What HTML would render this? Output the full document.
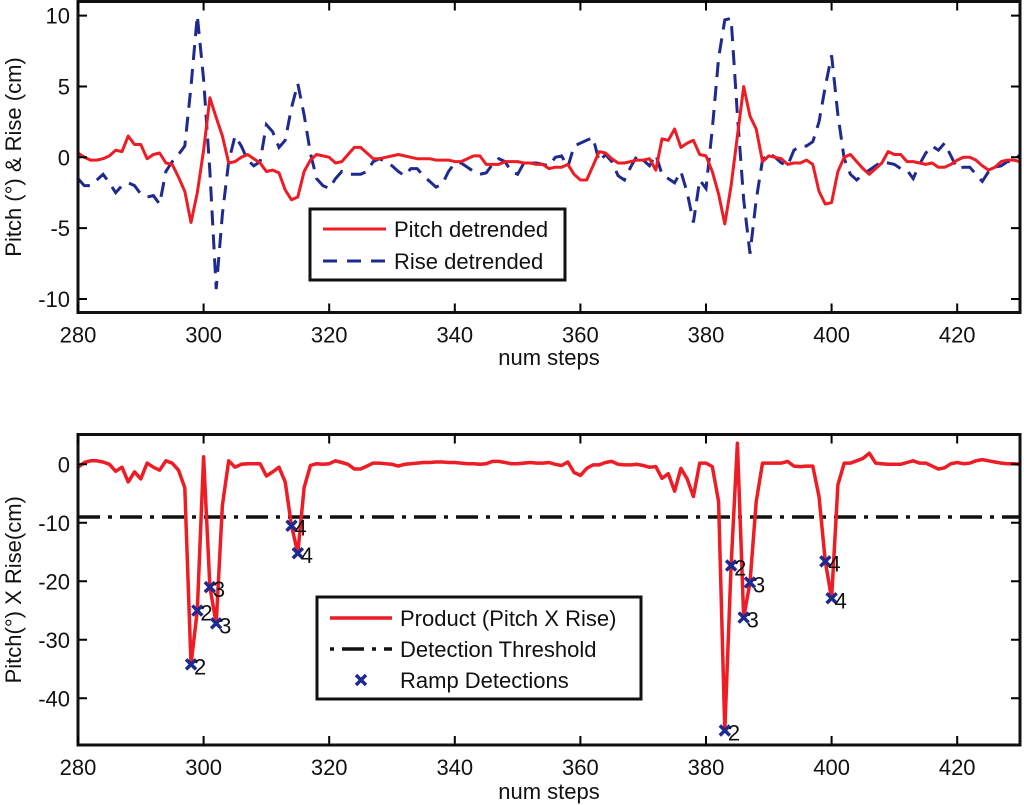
<!DOCTYPE html>
<html><head><meta charset="utf-8"><style>
html,body{margin:0;padding:0;background:#fff;}
svg{display:block;font-family:"Liberation Sans",sans-serif;}
</style></head><body>
<svg id="chart" width="1024" height="805" viewBox="0 0 1024 805"></svg>
<script>
const stepStart = 280;
const pitchValues = [0.3,0,-0.2,-0.2,-0.1,0.1,0.5,0.4,1.5,0.9,
0.9,-0.1,0.2,0.3,-0.4,-0.5,-1.4,-2.4,-4.6,-2.5,
0.5,4.2,2.8,1.5,-0.4,-0.3,0,0.2,-0.1,-0.4,
-1.0,-0.9,-1.1,-2.3,-3.0,-2.8,-1.0,-0.2,0.2,0.1,
0,-0.4,-0.3,0.2,0.7,0.7,0.3,-0.1,-0.1,0,
0.1,0.2,0.1,0,-0.1,-0.1,-0.1,-0.2,-0.2,-0.2,
-0.3,-0.3,-0.1,0.1,0.1,-0.5,-0.5,-0.5,-0.3,-0.3,
-0.3,-0.4,-0.4,-0.5,-0.5,-0.8,-0.7,-0.7,-0.5,-1.2,
-1.6,-1.6,-0.6,0.4,0.3,-0.1,-0.4,-0.4,-0.3,-0.2,
-0.2,-0.1,-0.9,1.3,1.2,2.0,0.7,1.0,1.2,0.2,
0.1,-1.0,-2.6,-4.7,-2.0,1.5,5.0,2.9,2.0,-0.3,
0.1,0,-0.1,-0.5,-0.4,-0.4,-0.2,-0.5,-2.4,-3.3,
-3.2,-1.0,0,0.2,-0.3,-0.8,-1.2,-0.8,-0.4,0.4,
0.2,0.2,-0.3,-0.3,-0.4,-0.5,-0.4,-0.7,-0.7,-0.5,
-0.2,0,0,-0.2,-0.6,-0.9,-0.7,-0.3,-0.2,-0.2,
-0.3];
const riseValues = [-1.5,-2.0,-2.0,-1.6,-1.2,-1.8,-2.5,-2.0,-1.8,-2.0,
-2.6,-2.8,-2.7,-3.3,-1.0,-0.3,0.2,0.8,5.0,10.0,
5.5,-1.0,-9.3,-4.0,-0.3,1.5,0.8,-0.2,-0.6,-0.3,
2.3,1.8,0.7,1.2,3.5,5.2,3.0,0.3,-1.5,-2.0,
-2.2,-1.5,-1.0,-1.2,-1.2,-1.2,-1.0,-0.3,-0.1,-0.3,
-0.6,-1.0,-1.3,-0.8,-0.8,-1.3,-1.7,-2.1,-1.9,-1.0,
-0.4,-0.4,-0.7,-1.0,-1.2,-1.1,-0.5,-0.1,-0.3,-1.0,
-1.2,-0.4,-0.4,-0.4,-0.5,-0.6,0,0.1,-0.7,0.8,
1.0,1.2,1.4,-0.3,0.2,-0.3,-1.3,-1.6,-0.7,0.1,
-0.2,-0.6,0.2,-1.2,-1.5,-1.8,-1.0,-2.5,-4.6,-1.6,
-2.2,2.0,7.0,9.7,9.8,3.0,-3.0,-6.8,-3.0,-0.2,
0.3,0,-0.4,-0.6,0.5,0.8,0.8,1.1,2.5,5.0,
7.2,3.0,-0.1,-1.2,-1.6,-1.2,-0.9,-0.6,-0.3,-0.4,
-0.5,-0.8,-0.9,-1.5,-0.5,0.3,0.8,0.5,1.0,0.1,
-0.8,-0.7,-0.7,-1.2,-1.7,-1.0,-0.7,-0.6,-0.3,-0.3,
0.2];
const productValues = [-0.5,0.3,0.6,0.6,0.4,0,-1.2,-0.5,-3.0,-1.3,
-2.5,0.2,-0.5,-1.0,0.6,0.2,-1.0,-4.0,-34.2,-25,
1.3,-21,-27.2,-7,0.6,-0.5,0,0.1,0.1,0.1,
-2.0,-1.3,-0.5,-3,-10.5,-15.2,-4,-0.2,0.1,0,
0.1,0.6,0.3,0,-0.8,-0.8,-0.3,0.2,0.2,0.1,
0,-0.3,0,0.1,0.2,0.3,0.3,0.4,0.4,0.3,
0.3,0.2,0.1,0.1,0,0.1,0.5,0.5,0.3,0.1,
0.1,0.2,0.3,0.2,0.2,0.3,0,-0.2,0.4,-1.4,
-1.9,-0.7,-0.1,-0.1,0.3,0.5,0,-0.1,-0.1,0,
-0.2,-0.5,-0.4,-2.4,-1.6,-4.6,-0.7,-2.5,-5.5,0.2,
0.2,-0.4,-6.4,-45.5,-17.3,3.6,-26.2,-20.2,-6.4,0.2,
0.2,0.2,0.2,0.5,-0.3,-0.4,-0.3,-0.3,-5.5,-16.6,
-22.9,-3.5,0.2,0.2,0.6,1.0,1.9,0.2,0.1,0,
0,0,0.3,0.6,0.2,0.2,-0.3,-0.8,-0.6,0.1,
0.3,0.1,0.2,0.6,0.8,0.6,0.4,0.2,0.1,0.1,
0];
const thresholdValue = -9;
const detectionSteps = [298,299,301,302,314,315,383,384,386,387,399,400];
const detectionValues = [-34.2,-25,-21,-27.2,-10.5,-15.2,-45.5,-17.3,-26.2,-20.2,-16.6,-22.9];
const detectionLabels = ['2','2','3','3','4','4','2','2','3','3','4','4'];
const xTicks = [280,300,320,340,360,380,400,420];
const topYTicks = [10,5,0,-5,-10];
const bottomYTicks = [0,-10,-20,-30,-40];

const NS='http://www.w3.org/2000/svg';
const svg=document.getElementById('chart');
function mk(tag,attrs,parent){const e=document.createElementNS(NS,tag);for(const k in attrs)e.setAttribute(k,attrs[k]);(parent||svg).appendChild(e);return e;}

const X0=78,X1=1020;
const xScale=s=>X0+(s-280)*(X1-X0)/150;
function yScaleTop(v){return 157.3-v*14.17;}
function yScaleBot(v){return 464.3-v*5.85;}
const steps=pitchValues.map((_,i)=>stepStart+i);

function axes(g,top,bot,yTicks,ys,title,xlabY){
  for(const t of xTicks){
    const x=xScale(t);
    const tk=mk('path',{d:`M${x},${bot}V${bot-9}M${x},${top}V${top+9}`,stroke:'#000','stroke-width':2},g);
    
    
    const tx=mk('text',{x:x,y:bot+30,'font-size':22,'text-anchor':'middle',fill:'#111'},g);
    tx.textContent=t;
    
    
  }
  for(const t of yTicks){
    const y=ys(t);
    const tk=mk('path',{d:`M${X0},${y}H${X0+9}M${X1},${y}H${X1-9}`,stroke:'#000','stroke-width':2},g);
    
    
    const tx=mk('text',{x:X0-8,y:y+8,'font-size':22,'text-anchor':'end',fill:'#111'},g);
    tx.textContent=t;
    
    
  }
  const xl=mk('text',{x:549,y:xlabY,'font-size':22,'text-anchor':'middle',fill:'#111'},g);
  xl.textContent='num steps';
  
  
  const yl=mk('text',{x:0,y:0,'font-size':22,'text-anchor':'middle',fill:'#111',transform:`translate(21,${(top+bot)/2}) rotate(-90)`},g);
  yl.textContent=title;
  
  
}
function line(g,vals,ys,attrs,name){
  const d=vals.map((v,i)=>(i?'L':'M')+xScale(steps[i]).toFixed(1)+','+ys(v).toFixed(1)).join('');
  const p=mk('path',Object.assign({d:d,fill:'none'},attrs),g);
  
  
}

// top plot
const g1=mk('g',{});


mk('rect',{x:X0,y:1.5,width:X1-X0,height:311,fill:'#fff'},g1);
line(g1,riseValues,yScaleTop,{stroke:'#1f2a8f','stroke-width':3,'stroke-dasharray':'15,9'},'rise-detrended-line');
line(g1,pitchValues,yScaleTop,{stroke:'#ee1c24','stroke-width':3,'stroke-linejoin':'round'},'pitch-detrended-line');
const f1=mk('rect',{x:X0,y:1.5,width:X1-X0,height:311,fill:'none',stroke:'#111','stroke-width':3},g1);


axes(g1,1.5,312.5,topYTicks,yScaleTop,'Pitch (\u00b0) & Rise (cm)',365);
const l1=mk('g',{},g1);


mk('rect',{x:310,y:209,width:255,height:71,fill:'#fff',stroke:'#111','stroke-width':3},l1);
mk('line',{x1:323,y1:229,x2:386,y2:229,stroke:'#ee1c24','stroke-width':3},l1);
mk('line',{x1:323,y1:261,x2:386,y2:261,stroke:'#1f2a8f','stroke-width':3,'stroke-dasharray':'14,10'},l1);
let t=mk('text',{x:394,y:237,'font-size':22,fill:'#111'},l1);t.textContent='Pitch detrended';


t=mk('text',{x:394,y:269,'font-size':22,fill:'#111'},l1);t.textContent='Rise detrended';



// bottom plot
const g2=mk('g',{});


const th=mk('line',{x1:X0,x2:X1,y1:yScaleBot(thresholdValue),y2:yScaleBot(thresholdValue),stroke:'#111','stroke-width':3.5,'stroke-dasharray':'22,8,4,8'},g2);


line(g2,productValues,yScaleBot,{stroke:'#ee1c24','stroke-width':3.5,'stroke-linejoin':'round'},'product-line');
detectionSteps.forEach((s,i)=>{
  const x=xScale(s),y=yScaleBot(detectionValues[i]);
  const m=mk('path',{d:`M${x-5},${y-5}L${x+5},${y+5}M${x-5},${y+5}L${x+5},${y-5}`,stroke:'#1f2a8f','stroke-width':3.5},g2);
  
  
  const lb=mk('text',{x:x+3,y:y+10,'font-size':22,fill:'#111'},g2);
  lb.textContent=detectionLabels[i];
  
  
});
const f2=mk('rect',{x:X0,y:434.5,width:X1-X0,height:310.5,fill:'none',stroke:'#111','stroke-width':3},g2);


axes(g2,434.5,745,bottomYTicks,yScaleBot,'Pitch(\u00b0) X Rise(cm)',799);
const l2=mk('g',{},g2);


mk('rect',{x:317,y:597,width:324,height:102,fill:'#fff',stroke:'#111','stroke-width':3},l2);
mk('line',{x1:330,y1:618,x2:392,y2:618,stroke:'#ee1c24','stroke-width':3.5},l2);
mk('line',{x1:330,y1:649,x2:392,y2:649,stroke:'#111','stroke-width':3.5,'stroke-dasharray':'4,8,22,8'},l2);
mk('path',{d:'M356,675L366,685M356,685L366,675',stroke:'#1f2a8f','stroke-width':3.5},l2);
t=mk('text',{x:400,y:626,'font-size':22,fill:'#111'},l2);t.textContent='Product (Pitch X Rise)';


t=mk('text',{x:400,y:657,'font-size':22,fill:'#111'},l2);t.textContent='Detection Threshold';


t=mk('text',{x:400,y:688,'font-size':22,fill:'#111'},l2);t.textContent='Ramp Detections';


</script>
</body></html>
